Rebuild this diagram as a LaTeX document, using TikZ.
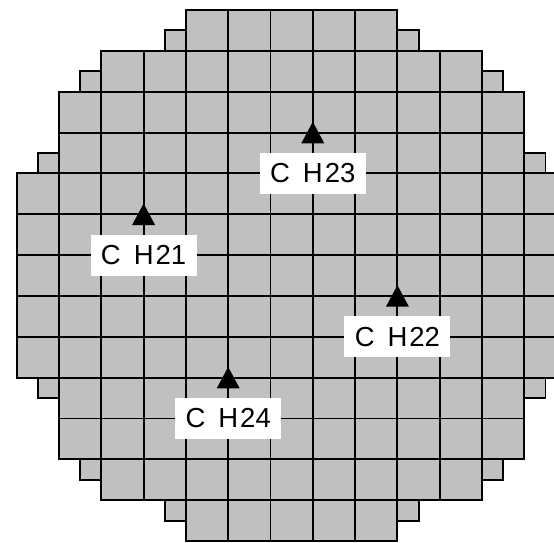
\documentclass[tikz,border=0pt]{standalone}
\usepackage{fontspec}
\setmainfont{Liberation Sans}
\usetikzlibrary{calc}
\definecolor{cellgray}{RGB}{192,192,192}
\newcommand{\waferoutline}{(4,0) -- (9,0) -- (9,0.5) -- (9.5,0.5) -- (9.5,1) -- (11,1) -- (11,1.5) -- (11.5,1.5) -- (11.5,2) -- (12,2) -- (12,3.5) -- (12.5,3.5) -- (12.5,4) -- (13,4) -- (13,9) -- (12.5,9) -- (12.5,9.5) -- (12,9.5) -- (12,11) -- (11.5,11) -- (11.5,11.5) -- (11,11.5) -- (11,12) -- (9.5,12) -- (9.5,12.5) -- (9,12.5) -- (9,13) -- (4,13) -- (4,12.5) -- (3.5,12.5) -- (3.5,12) -- (2,12) -- (2,11.5) -- (1.5,11.5) -- (1.5,11) -- (1,11) -- (1,9.5) -- (0.5,9.5) -- (0.5,9) -- (0,9) -- (0,4) -- (0.5,4) -- (0.5,3.5) -- (1,3.5) -- (1,2) -- (1.5,2) -- (1.5,1.5) -- (2,1.5) -- (2,1) -- (3.5,1) -- (3.5,0.5) -- (4,0.5) -- cycle}
\tikzset{
  gridline/.style={line width=1.9pt},
  edgeline/.style={line width=1.9pt, line join=miter},
  marker/.style={fill=black},
  tag/.style={fill=white, inner sep=0pt, minimum width=106pt, minimum height=41pt,
    font=\fontsize{27.5}{30}\selectfont},
}
\begin{document}
\begin{tikzpicture}[x={(42.3pt,0pt)}, y={(0pt,-40.85pt)}]
  \useasboundingbox (-16.7pt,10pt) rectangle (537.3pt,-532pt);
  \clip (-16.7pt,10pt) rectangle (537.3pt,-532pt);
  % wafer body
  \fill[cellgray] \waferoutline;
  \begin{scope}
    \clip \waferoutline;
    \foreach \i in {1,...,12} {
      \draw[gridline] (\i,-1) -- (\i,14);
      \draw[gridline] (-1,\i) -- (14,\i);
    }
  \end{scope}
  \draw[edgeline] \waferoutline;
  % marker positions
  \coordinate (p21) at (3,5);
  \coordinate (p22) at (9,7);
  \coordinate (p23) at (7,3);
  \coordinate (p24) at (5,9);
  \foreach \p in {p21,p22,p23,p24} {
    \fill[marker] ($(\p)+(0pt,10.75pt)$) -- ($(\p)+(11.5pt,-10.75pt)$) -- ($(\p)+(-11.5pt,-10.75pt)$) -- cycle;
  }
  % labels
  \node[tag] (l21) at (3,6) {C\hspace{13pt}H\hspace{2pt}21};
  \node[tag] (l22) at (9,8) {C\hspace{13pt}H\hspace{2pt}22};
  \node[tag] (l23) at (7,4) {C\hspace{13pt}H\hspace{2pt}23};
  \node[tag] (l24) at (5,10) {C\hspace{13pt}H\hspace{2pt}24};
\end{tikzpicture}
\end{document}
